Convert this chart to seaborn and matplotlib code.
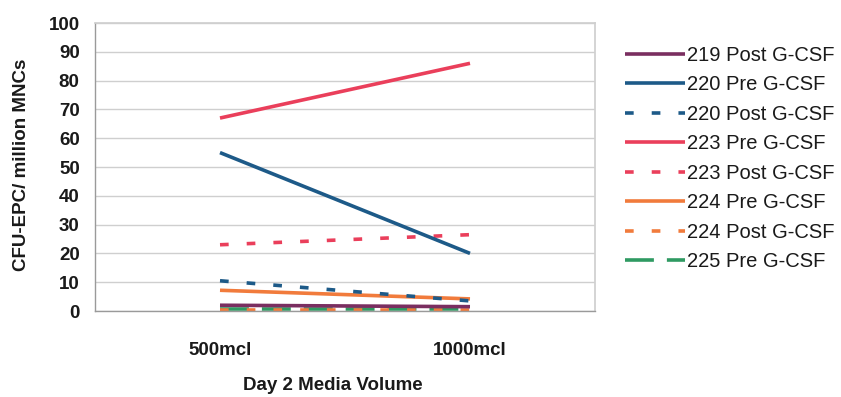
import matplotlib
matplotlib.use("Agg")
import matplotlib.pyplot as plt
import seaborn as sns
import pandas as pd

# Culture volumes on the x axis
volumes = ["500mcl", "1000mcl"]

# CFU-EPC per million MNCs for each donor sample
s219_post = [2.0, 1.5]
s220_pre = [55.0, 20.0]
s220_post = [10.5, 3.5]
s223_pre = [67.0, 86.0]
s223_post = [23.0, 26.5]
s224_pre = [7.2, 4.2]
s224_post = [0.5, 0.5]
s225_pre = [0.8, 0.8]

series_names = ["219 Post G-CSF", "220 Pre G-CSF", "220 Post G-CSF", "223 Pre G-CSF",
                "223 Post G-CSF", "224 Pre G-CSF", "224 Post G-CSF", "225 Pre G-CSF"]
series_values = [s219_post, s220_pre, s220_post, s223_pre,
                 s223_post, s224_pre, s224_post, s225_pre]

colors = {
    "219 Post G-CSF": "#7A2E60",
    "220 Pre G-CSF": "#1D5A88",
    "220 Post G-CSF": "#1D5A88",
    "223 Pre G-CSF": "#EA3F5B",
    "223 Post G-CSF": "#EA3F5B",
    "224 Pre G-CSF": "#F17B3C",
    "224 Post G-CSF": "#F17B3C",
    "225 Pre G-CSF": "#2F9A62",
}
short_dash = (2.4, 5.0)
long_dash = (8.0, 3.6)
dashes = {
    "219 Post G-CSF": "",
    "220 Pre G-CSF": "",
    "220 Post G-CSF": short_dash,
    "223 Pre G-CSF": "",
    "223 Post G-CSF": short_dash,
    "224 Pre G-CSF": "",
    "224 Post G-CSF": short_dash,
    "225 Pre G-CSF": long_dash,
}

rows = []
for name, vals in zip(series_names, series_values):
    for vol, v in zip(volumes, vals):
        rows.append({"volume": vol, "value": v, "series": name})
df = pd.DataFrame(rows)

sns.set_theme(style="white")
plt.rcParams["font.family"] = ["Liberation Sans", "DejaVu Sans"]

fig = plt.figure(figsize=(8.41, 3.97), dpi=100)
ax = fig.add_axes([95 / 841, 1 - 311 / 397, 500 / 841, 288 / 397])

# draw in reverse so earlier series sit on top
for name in reversed(series_names):
    sub = df[df["series"] == name]
    sns.lineplot(data=sub, x="volume", y="value", ax=ax, color=colors[name],
                 linewidth=2.6, legend=False, sort=False)
    line = ax.lines[-1]
    if dashes[name] != "":
        line.set_dashes(dashes[name])
    line.set_label(name)
    line.set_solid_capstyle("butt")
    line.set_dash_capstyle("butt")

ax.set_xlim(-0.5, 1.5)
ax.set_ylim(0, 100)
ax.set_yticks(range(0, 101, 10))
ax.set_xticks([0, 1])
ax.set_xticklabels(volumes)
ax.yaxis.grid(True, color="#CFCFCF", linewidth=1.0)
ax.xaxis.grid(False)
for side in ["top", "right"]:
    ax.spines[side].set_visible(True)
    ax.spines[side].set_color("#CFCFCF")
ax.spines["left"].set_color("#9A9A9A")
ax.spines["bottom"].set_color("#9A9A9A")
ax.spines["left"].set_linewidth(1.0)
ax.spines["bottom"].set_linewidth(1.0)

# category tick marks between categories
ax.set_xticks([-0.5, 0.5, 1.5], minor=True)
ax.tick_params(axis="x", which="minor", direction="out", length=5, color="#9A9A9A", width=1)
ax.tick_params(axis="x", which="major", length=0, pad=22)
ax.tick_params(axis="y", direction="out", length=5, color="#9A9A9A", width=1, pad=6)
for lab in ax.get_xticklabels() + ax.get_yticklabels():
    lab.set_fontweight("bold")
    lab.set_fontsize(13.5)
    lab.set_color("#1a1a1a")

ax.set_xlabel("")
ax.set_ylabel("")
fig.text(22 / 841, 1 - 165 / 397, "CFU-EPC/ million MNCs", rotation=90, ha="center", va="center",
         fontsize=13.5, fontweight="bold", color="#1a1a1a")
fig.text(333 / 841, 1 - 385 / 397, "Day 2 Media Volume", ha="center", va="center",
         fontsize=13.5, fontweight="bold", color="#1a1a1a")

handles = {l.get_label(): l for l in ax.lines}
leg = fig.legend([handles[n] for n in series_names], series_names,
                 loc="upper left", bbox_to_anchor=(625 / 841, 1 - 46 / 397),
                 frameon=False, fontsize=14.5, handlelength=3.0, handletextpad=0.1,
                 labelspacing=0.52, borderpad=0, borderaxespad=0)
for t in leg.get_texts():
    t.set_color("#1a1a1a")

fig.savefig("out.png", dpi=100)
